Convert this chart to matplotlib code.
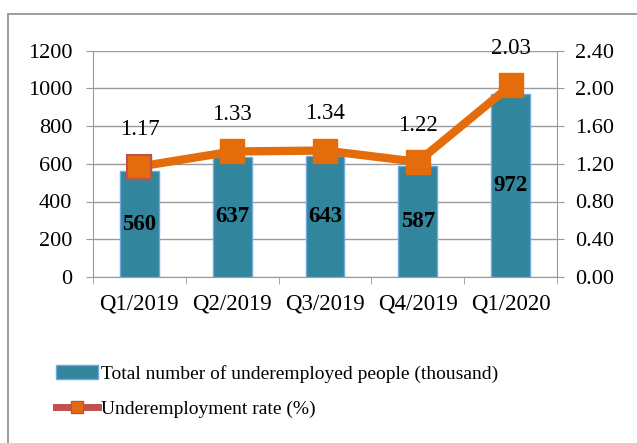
import numpy as np
import matplotlib.pyplot as plt
from matplotlib.patches import Rectangle
from matplotlib.lines import Line2D
from matplotlib.patches import Patch

quarters = ['Q1/2019', 'Q2/2019', 'Q3/2019', 'Q4/2019', 'Q1/2020']
people = [560, 637, 643, 587, 972]
rate = [1.17, 1.33, 1.34, 1.22, 2.03]

plt.rcParams['font.family'] = ['Liberation Serif', 'DejaVu Serif']

bar_col = '#31859C'
line_col = '#E46C0A'
edge_red = '#C0504D'
grey = '#9a9a9a'

fig = plt.figure(figsize=(6.37, 4.43), dpi=100)
ax = fig.add_axes([93/637, 1 - 277/443, 464/637, 226.5/443])

# outer chart frame (cut off at right and bottom)
fig.patches.append(Rectangle((8/637, -0.1), 1.2, 1 - 14/443 + 0.1, transform=fig.transFigure,
                             fill=False, edgecolor='#8c8c8c', lw=1.2, clip_on=False))

x = np.arange(len(quarters))
ax.bar(x, people, width=0.42, color=bar_col, edgecolor='#6FA8DC', lw=1, zorder=2)
for xi, v in zip(x, people):
    ax.text(xi, v / 2, str(v), ha='center', va='center', fontsize=16.5, fontweight='bold', zorder=5)

ax.set_ylim(0, 1200)
ax.set_yticks(range(0, 1201, 200))
ax.set_xlim(-0.5, 4.5)
ax.set_xticks(x)
ax.set_xticklabels(quarters)
ax.set_xticks(np.arange(-0.5, 5, 1), minor=True)
ax.tick_params(axis='x', which='major', length=0, labelsize=16.5, pad=12)
ax.tick_params(axis='x', which='minor', length=5, color=grey)
ax.tick_params(axis='y', length=5, color=grey, labelsize=16, pad=10)
ax.grid(axis='y', color=grey, lw=1)
ax.set_axisbelow(True)
for s in ['top', 'right']:
    ax.spines[s].set_visible(False)
ax.spines['left'].set_color(grey)
ax.spines['bottom'].set_color(grey)

ax2 = ax.twinx()
ax2.plot(x, rate, color=line_col, lw=6, marker='s', ms=17.5, mfc=line_col, mec=line_col, zorder=4)
# first marker keeps its red outline
ax2.plot(x[:1], rate[:1], ls='none', marker='s', ms=17.5, mfc=line_col, mec=edge_red, mew=1.5, zorder=5)
for xi, v in zip(x, rate):
    ax2.text(xi, v + 0.39, f'{v:.2f}', ha='center', va='center', fontsize=16.5)
ax2.set_ylim(0, 2.4)
ax2.set_yticks(np.arange(0, 2.41, 0.4))
ax2.set_yticklabels([f'{t:.2f}' for t in np.arange(0, 2.41, 0.4)])
ax2.tick_params(axis='y', length=5, color=grey, labelsize=16, pad=8)
for s in ['top', 'left', 'bottom']:
    ax2.spines[s].set_visible(False)
ax2.spines['right'].set_color(grey)

handles = [Patch(facecolor=bar_col, edgecolor='#6FA8DC'),
           Line2D([0], [0], color=edge_red, lw=5, marker='s', ms=9, mfc=line_col, mec=edge_red)]
fig.legend(handles, ['Total number of underemployed people (thousand)', 'Underemployment rate (%)'],
           loc='upper left', bbox_to_anchor=(0.06, 0.216), frameon=False, fontsize=14,
           handlelength=2.2, handletextpad=0.15, labelspacing=0.9)

fig.savefig('out.png', dpi=100)
